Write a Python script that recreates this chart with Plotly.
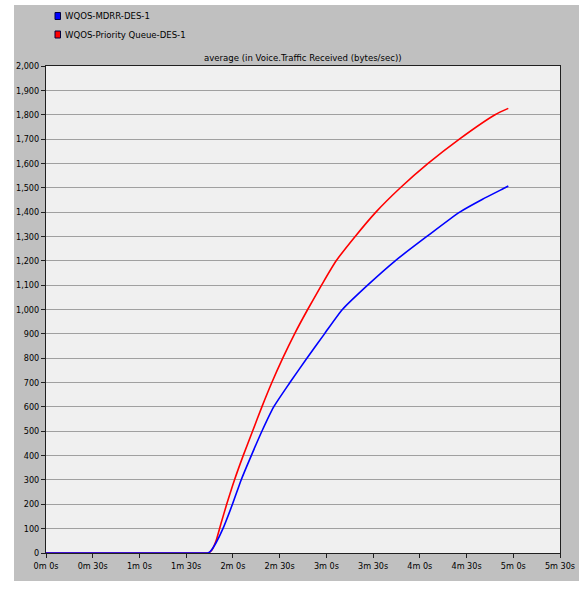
import plotly.graph_objects as go

# Simulation time in seconds and average received voice traffic (bytes/sec)
mdrr_time = [0, 104, 105.5, 109, 113.6, 119.7, 125.3, 131.8, 138.6, 146.2, 156.6,
             167.5, 178.8, 190.3, 206.5, 224.2, 244.5, 265.6, 280, 294.7, 296.8]
mdrr_values = [0, 0, 6, 40, 100, 200, 300, 400, 500, 600, 700,
               800, 900, 1000, 1100, 1200, 1300, 1400, 1452, 1500, 1507]

pq_time = [0, 104.5, 106.5, 109.3, 112.3, 116.0, 121.0, 126.6, 132.6, 138.6, 145.0,
           152.0, 159.6, 168.0, 176.9, 186.3, 198.5, 211.8, 227.5, 245.3, 265.4,
           288.3, 296.8]
pq_values = [0, 0, 12, 52, 120, 200, 300, 400, 500, 600, 700,
             800, 900, 1000, 1100, 1200, 1300, 1400, 1500, 1600, 1700,
             1800, 1826]

series_names = ["WQOS-MDRR-DES-1", "WQOS-Priority Queue-DES-1"]
series_colors = ["#0000ff", "#ff0000"]

x_tick_vals = [0, 30, 60, 90, 120, 150, 180, 210, 240, 270, 300, 330]
x_tick_text = ["0m 0s", "0m 30s", "1m 0s", "1m 30s", "2m 0s", "2m 30s",
               "3m 0s", "3m 30s", "4m 0s", "4m 30s", "5m 0s", "5m 30s"]
y_tick_vals = list(range(0, 2001, 100))

title_text = "average (in Voice.Traffic Received (bytes/sec))"

FONT = "DejaVu Sans Condensed, Liberation Sans Narrow, sans-serif"
FS = 9


def add_series(fig, t, v, color, name):
    # flat lead-in drawn straight, rising part smoothed
    k = next(i for i, val in enumerate(v) if val > 0) - 1
    fig.add_trace(go.Scatter(x=t[:k + 1], y=v[:k + 1], mode="lines",
                             line=dict(color=color, width=1.6),
                             name=name, showlegend=False))
    fig.add_trace(go.Scatter(x=t[k:], y=v[k:], mode="lines",
                             line=dict(color=color, width=1.6,
                                       shape="spline", smoothing=0.6),
                             name=name, showlegend=False))


fig = go.Figure()
# red drawn first so the blue flat segment sits on top
add_series(fig, pq_time, pq_values, series_colors[1], series_names[1])
add_series(fig, mdrr_time, mdrr_values, series_colors[0], series_names[0])

W, H = 589, 584
ml, mt = 46, 66
mr = W - 560
mb = H - 553
pw, ph = W - ml - mr, H - mt - mb


def px_to_paper_x(px):
    return (px - ml) / pw


def px_to_paper_y(py):
    return (H - mb - py) / ph


shapes = [
    # gray panel behind everything
    dict(type="rect", xref="paper", yref="paper", layer="below",
         x0=px_to_paper_x(14), x1=px_to_paper_x(W + 1),
         y0=px_to_paper_y(581), y1=px_to_paper_y(5),
         fillcolor="#c0c0c0", line=dict(width=0)),
    # light plotting area
    dict(type="rect", xref="paper", yref="paper", layer="below",
         x0=0, x1=1, y0=0, y1=1, fillcolor="#f0f0f0", line=dict(width=0)),
]

annotations = []
for i, (name, color) in enumerate(zip(series_names, series_colors)):
    cy = 16 + i * 18.5
    shapes.append(dict(type="rect", xref="paper", yref="paper", layer="above",
                       x0=px_to_paper_x(55), x1=px_to_paper_x(60.5),
                       y0=px_to_paper_y(cy + 3.5), y1=px_to_paper_y(cy - 3.5),
                       fillcolor=color, line=dict(color="#000040", width=1)))
    annotations.append(dict(xref="paper", yref="paper", x=px_to_paper_x(63),
                            y=px_to_paper_y(cy), xanchor="left", yanchor="middle",
                            text=name, showarrow=False,
                            font=dict(family=FONT, size=FS + 0.5, color="#000000")))

annotations.append(dict(xref="paper", yref="paper", x=0.5, y=px_to_paper_y(58),
                        xanchor="center", yanchor="middle", text=title_text,
                        showarrow=False,
                        font=dict(family=FONT, size=FS + 0.5, color="#000000")))

fig.update_layout(
    width=W, height=H, autosize=False,
    margin=dict(l=ml, r=mr, t=mt, b=mb),
    paper_bgcolor="#ffffff",
    plot_bgcolor="rgba(0,0,0,0)",
    font=dict(family=FONT, size=FS, color="#000000"),
    shapes=shapes,
    annotations=annotations,
    showlegend=False,
)

fig.update_xaxes(
    range=[0, 330], tickmode="array", tickvals=x_tick_vals, ticktext=x_tick_text,
    showgrid=False, zeroline=False,
    showline=True, linecolor="#202020", linewidth=1, mirror=True,
    ticks="outside", ticklen=4, tickcolor="#202020",
    tickfont=dict(family=FONT, size=FS, color="#000000"),
)
fig.update_yaxes(
    range=[0, 2000], tickmode="array", tickvals=y_tick_vals, tickformat=",d",
    showgrid=True, gridcolor="#a0a0a0", gridwidth=1, zeroline=False,
    showline=True, linecolor="#202020", linewidth=1, mirror=True,
    ticks="outside", ticklen=4, tickcolor="#202020",
    tickfont=dict(family=FONT, size=FS, color="#000000"),
)

fig.write_html("out.html", config={"responsive": False})
